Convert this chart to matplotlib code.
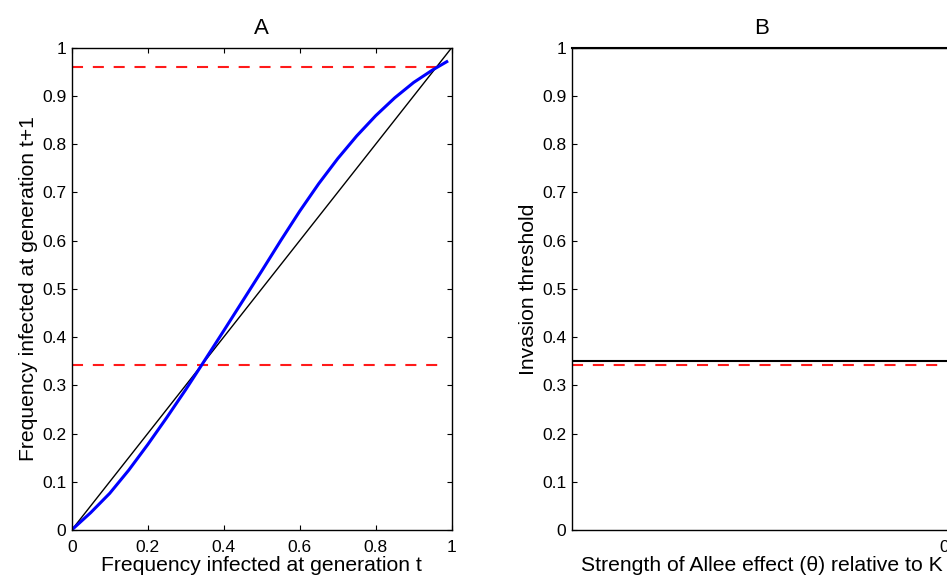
import matplotlib
matplotlib.use("Agg")
import matplotlib.pyplot as plt

plt.rcParams['font.family'] = ['Liberation Sans', 'DejaVu Sans']

# panel A: map of infection frequency from one generation to the next
freq_t = [0, 0.05, 0.1, 0.15, 0.2, 0.25, 0.3, 0.342, 0.4, 0.45, 0.5,
          0.55, 0.6, 0.65, 0.7, 0.75, 0.8, 0.85, 0.9, 0.95, 0.987]
freq_t1 = [0, 0.036, 0.076, 0.124, 0.177, 0.233, 0.291, 0.342, 0.413, 0.475, 0.537,
           0.600, 0.661, 0.718, 0.770, 0.817, 0.859, 0.896, 0.928, 0.954, 0.971]
diag = [0, 1]
eq_low = 0.342
eq_high = 0.96
eq_span = [0, 0.972]

# panel B: invasion threshold vs strength of Allee effect
theta = [0, 0.5]
upper = [1, 1]
threshold = [0.351, 0.351]
red_line = [0.342, 0.342]

yticks = [0, 0.1, 0.2, 0.3, 0.4, 0.5, 0.6, 0.7, 0.8, 0.9, 1]
ytick_labels = ['0', '0.1', '0.2', '0.3', '0.4', '0.5', '0.6', '0.7', '0.8', '0.9', '1']
xticks_a = [0, 0.2, 0.4, 0.6, 0.8, 1]
xtick_labels_a = ['0', '0.2', '0.4', '0.6', '0.8', '1']

fig = plt.figure(figsize=(9.47, 5.82), dpi=100)
W, H = 947, 582
axA = fig.add_axes([71.7 / W, 52 / H, 380 / W, 482.3 / H])
axB = fig.add_axes([571.7 / W, 52 / H, 380 / W, 482.3 / H])


def style(ax):
    for s in ax.spines.values():
        s.set_linewidth(1.0)
    ax.tick_params(direction='in', length=3.6, width=0.8, top=True, right=True,
                   labelsize=12.5, pad=4)
    ax.tick_params(axis='x', pad=7)
    ax.set_yticks(yticks)
    ax.set_yticklabels(ytick_labels)
    ax.set_ylim(0, 1)


style(axA)
axA.plot(diag, diag, color='black', lw=1.0)
axA.plot(eq_span, [eq_high, eq_high], color='#ff1a1a', lw=1.5, dashes=(5.3, 4.7))
axA.plot(eq_span, [eq_low, eq_low], color='#ff1a1a', lw=1.5, dashes=(5.3, 4.7))
axA.plot(freq_t, freq_t1, color='#0000ff', lw=2.2, solid_joinstyle='round')
axA.set_xlim(0, 1)
axA.set_xticks(xticks_a)
axA.set_xticklabels(xtick_labels_a)
axA.set_xlabel('Frequency infected at generation t', fontsize=15.2, labelpad=1)
axA.set_ylabel('Frequency infected at generation t+1', fontsize=15.2, labelpad=3)
axA.set_title('A', fontsize=16, pad=10)

style(axB)
axB.plot(theta, upper, color='black', lw=1.5, clip_on=False)
axB.plot(theta, threshold, color='black', lw=1.5)
axB.plot(theta, red_line, color='#ff1a1a', lw=1.5, dashes=(5.3, 4.7))
axB.set_xlim(0, 0.5)
axB.set_xticks([0.5])
axB.set_xticklabels(['0.5'])
axB.set_xlabel('Strength of Allee effect (\u03b8) relative to K', fontsize=15.2, labelpad=1)
axB.set_ylabel('Invasion threshold', fontsize=15.2, labelpad=3)
axB.set_title('B', fontsize=16, pad=10)

fig.savefig('out.png', dpi=100)
